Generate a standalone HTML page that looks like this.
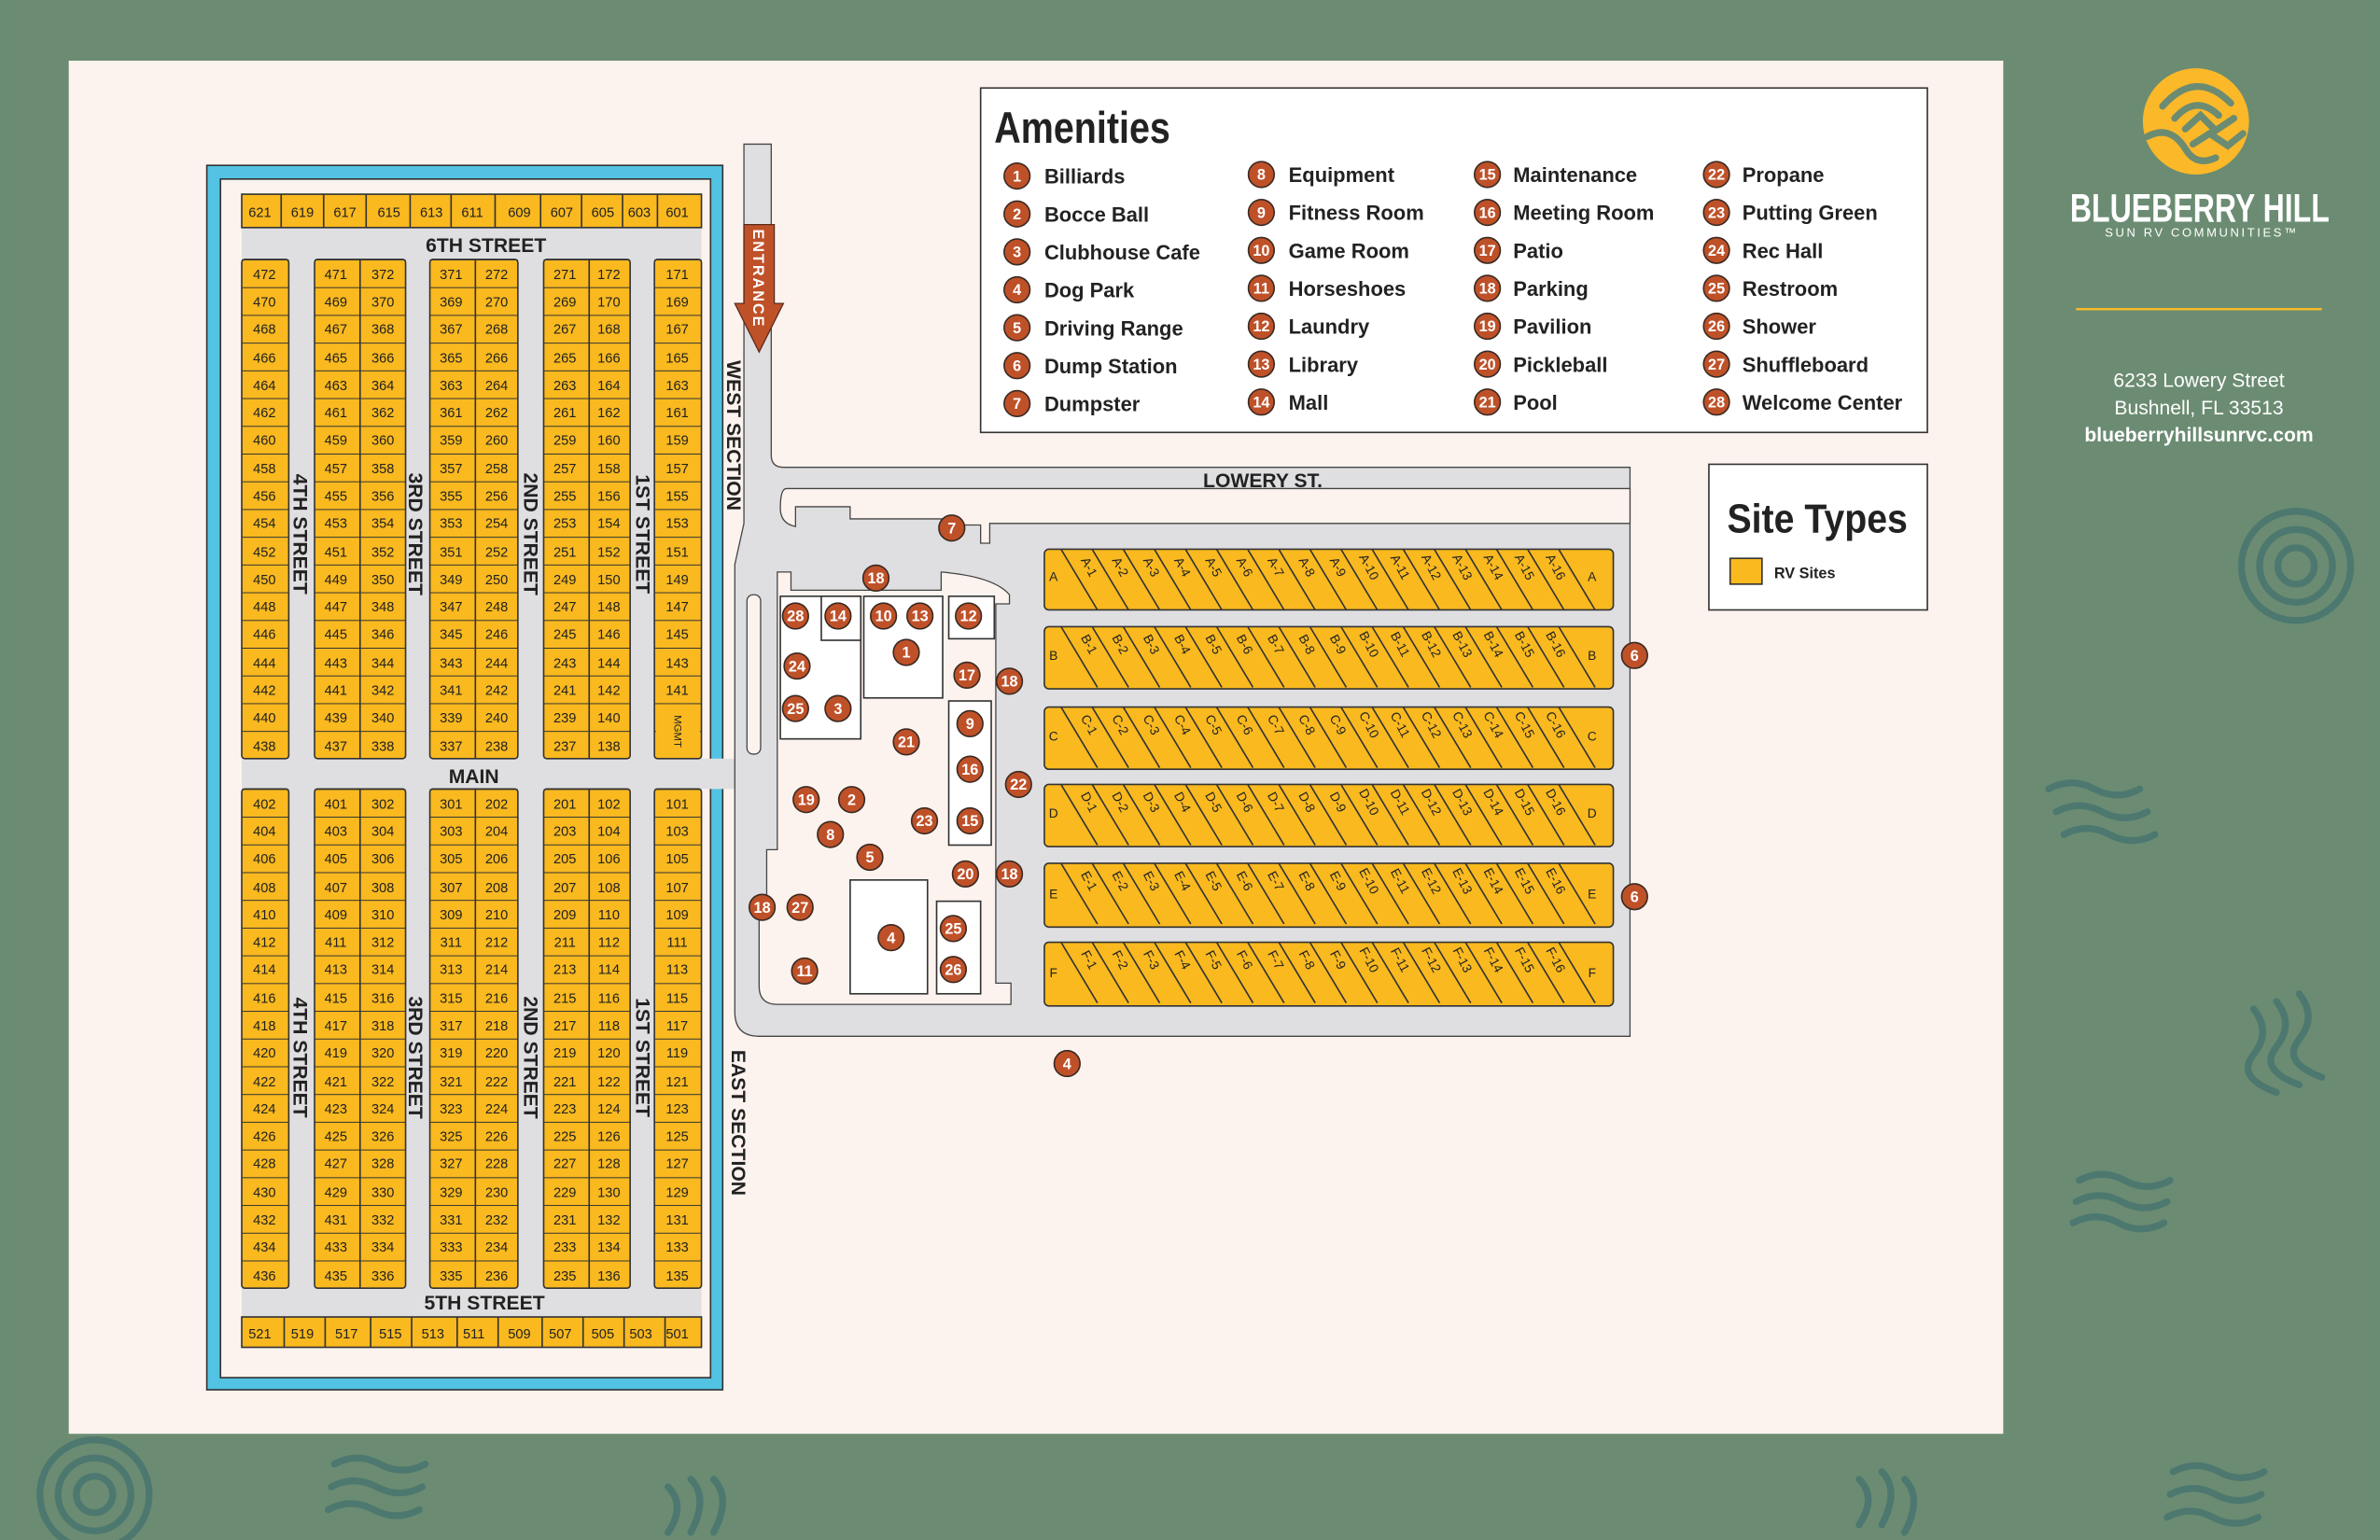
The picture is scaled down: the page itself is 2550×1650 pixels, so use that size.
<!DOCTYPE html>
<html><head><meta charset="utf-8"><style>
html,body{margin:0;padding:0;background:#6b8c72;}
svg{display:block}
.l{font-family:"Liberation Sans Narrow","Liberation Sans",sans-serif;font-size:9px;fill:#222;text-anchor:middle}
.st{font-family:"Liberation Sans",sans-serif;font-weight:bold;font-size:13px;fill:#222;text-anchor:middle}
.d{font-family:"Liberation Sans Narrow","Liberation Sans",sans-serif;font-size:8.5px;fill:#222;text-anchor:middle}
.c circle{fill:#bf5129;stroke:#3a2a22;stroke-width:1}
.c text{font-family:"Liberation Sans",sans-serif;font-weight:bold;font-size:10px;fill:#fff;text-anchor:middle}
.am{font-family:"Liberation Sans",sans-serif;font-weight:bold;font-size:13.5px;fill:#222}
.w{fill:none;stroke:#4d7870;stroke-width:4.5;stroke-linecap:round}
</style></head><body>
<svg width="2550" height="1650" viewBox="0 0 1568 1015" xmlns="http://www.w3.org/2000/svg">
<defs>
<pattern id="p1" patternUnits="userSpaceOnUse" x="0" y="171" width="10" height="18.28"><line x1="0" y1="0" x2="10" y2="0" stroke="#333" stroke-width="1.2"/></pattern>
<pattern id="p2" patternUnits="userSpaceOnUse" x="0" y="520" width="10" height="18.28"><line x1="0" y1="0" x2="10" y2="0" stroke="#333" stroke-width="1.2"/></pattern>
</defs>
<rect width="1568" height="1015" fill="#6b8c72"/>
<g class="w">
<circle cx="62" cy="985" r="36"/><circle cx="62" cy="985" r="24"/><circle cx="62" cy="985" r="12"/>
<circle cx="1513" cy="373" r="36"/><circle cx="1513" cy="373" r="24"/><circle cx="1513" cy="373" r="12"/>
<path d="M1350,520 q15,-8 30,0 t30,0 M1355,535 q15,-8 30,0 t30,0 M1360,550 q15,-8 30,0 t30,0"/>
<path d="M1485,665 q12,15 0,30 t15,25 M1500,660 q12,15 0,30 t15,25 M1515,655 q12,15 0,30 t15,25"/>
<path d="M1370,778 q15,-8 30,0 t30,0 M1368,792 q15,-8 30,0 t30,0 M1366,806 q15,-8 30,0 t30,0"/>
<path d="M220,965 q15,-8 30,0 t30,0 M218,980 q15,-8 30,0 t30,0 M216,995 q15,-8 30,0 t30,0"/>
<path d="M440,980 q12,12 0,30 M455,975 q12,12 0,35 M470,975 q12,12 0,35"/>
<path d="M1225,975 q12,12 0,30 M1240,970 q12,12 0,35 M1255,975 q12,12 0,35"/>
<path d="M1432,970 q15,-8 30,0 t30,0 M1430,985 q15,-8 30,0 t30,0 M1428,1000 q15,-8 30,0 t30,0"/>
</g>
<rect x="45" y="40" width="1275" height="905" fill="#fdf3ee"/>
<rect x="136" y="109" width="340" height="807" fill="#52c3e3" stroke="#333" stroke-width="1"/>
<rect x="145" y="118" width="323" height="790" fill="#fdf3ee" stroke="#333" stroke-width="1"/>
<rect x="159" y="128" width="303" height="760" fill="#dfdfe1"/>
<rect x="461" y="500" width="30" height="20" fill="#dfdfe1"/>
<rect x="159" y="128" width="303" height="22" fill="#f9b91f" stroke="#333"/>
<rect x="159" y="868" width="303" height="20" fill="#f9b91f" stroke="#333"/>
<path d="M185,128V150M213,128V150M241,128V150M270,128V150M297,128V150M326,128V150M356,128V150M383,128V150M410,128V150M433,128V150M187,868V888M214,868V888M244,868V888M271,868V888M301,868V888M328,868V888M357,868V888M384,868V888M411,868V888M438,868V888" stroke="#333" stroke-width="1"/>
<g fill="#f9b91f" stroke="#333" stroke-width="1">
<rect x="159" y="171" width="31" height="329" rx="2"/><rect x="207" y="171" width="60" height="329" rx="2"/><rect x="283" y="171" width="58" height="329" rx="2"/><rect x="358" y="171" width="57" height="329" rx="2"/><rect x="431" y="171" width="31" height="329" rx="2"/>
<rect x="159" y="520" width="31" height="329" rx="2"/><rect x="207" y="520" width="60" height="329" rx="2"/><rect x="283" y="520" width="58" height="329" rx="2"/><rect x="358" y="520" width="57" height="329" rx="2"/><rect x="431" y="520" width="31" height="329" rx="2"/>
</g>
<g fill="url(#p1)"><rect x="159" y="171" width="31" height="329"/><rect x="207" y="171" width="60" height="329"/><rect x="283" y="171" width="58" height="329"/><rect x="358" y="171" width="57" height="329"/><rect x="431" y="171" width="31" height="329"/></g>
<g fill="url(#p2)"><rect x="159" y="520" width="31" height="329"/><rect x="207" y="520" width="60" height="329"/><rect x="283" y="520" width="58" height="329"/><rect x="358" y="520" width="57" height="329"/><rect x="431" y="520" width="31" height="329"/></g>
<rect x="432" y="465" width="29" height="34" fill="#f9b91f"/>
<path d="M237,171V500M313,171V500M388,171V500M237,520V849M313,520V849M388,520V849" stroke="#333"/>
<g class="l">
<text x="171" y="143">621</text><text x="199" y="143">619</text><text x="227" y="143">617</text><text x="256" y="143">615</text><text x="284" y="143">613</text><text x="311" y="143">611</text><text x="342" y="143">609</text><text x="370" y="143">607</text><text x="397" y="143">605</text><text x="421" y="143">603</text><text x="446" y="143">601</text>
<text x="171" y="882">521</text><text x="199" y="882">519</text><text x="228" y="882">517</text><text x="257" y="882">515</text><text x="285" y="882">513</text><text x="312" y="882">511</text><text x="342" y="882">509</text><text x="369" y="882">507</text><text x="397" y="882">505</text><text x="422" y="882">503</text><text x="446" y="882">501</text>
<text x="174" y="184">472</text><text x="174" y="202">470</text><text x="174" y="220">468</text><text x="174" y="239">466</text><text x="174" y="257">464</text><text x="174" y="275">462</text><text x="174" y="293">460</text><text x="174" y="312">458</text><text x="174" y="330">456</text><text x="174" y="348">454</text><text x="174" y="367">452</text><text x="174" y="385">450</text><text x="174" y="403">448</text><text x="174" y="421">446</text><text x="174" y="440">444</text><text x="174" y="458">442</text><text x="174" y="476">440</text><text x="174" y="495">438</text>
<text x="221" y="184">471</text><text x="221" y="202">469</text><text x="221" y="220">467</text><text x="221" y="239">465</text><text x="221" y="257">463</text><text x="221" y="275">461</text><text x="221" y="293">459</text><text x="221" y="312">457</text><text x="221" y="330">455</text><text x="221" y="348">453</text><text x="221" y="367">451</text><text x="221" y="385">449</text><text x="221" y="403">447</text><text x="221" y="421">445</text><text x="221" y="440">443</text><text x="221" y="458">441</text><text x="221" y="476">439</text><text x="221" y="495">437</text>
<text x="252" y="184">372</text><text x="252" y="202">370</text><text x="252" y="220">368</text><text x="252" y="239">366</text><text x="252" y="257">364</text><text x="252" y="275">362</text><text x="252" y="293">360</text><text x="252" y="312">358</text><text x="252" y="330">356</text><text x="252" y="348">354</text><text x="252" y="367">352</text><text x="252" y="385">350</text><text x="252" y="403">348</text><text x="252" y="421">346</text><text x="252" y="440">344</text><text x="252" y="458">342</text><text x="252" y="476">340</text><text x="252" y="495">338</text>
<text x="297" y="184">371</text><text x="297" y="202">369</text><text x="297" y="220">367</text><text x="297" y="239">365</text><text x="297" y="257">363</text><text x="297" y="275">361</text><text x="297" y="293">359</text><text x="297" y="312">357</text><text x="297" y="330">355</text><text x="297" y="348">353</text><text x="297" y="367">351</text><text x="297" y="385">349</text><text x="297" y="403">347</text><text x="297" y="421">345</text><text x="297" y="440">343</text><text x="297" y="458">341</text><text x="297" y="476">339</text><text x="297" y="495">337</text>
<text x="327" y="184">272</text><text x="327" y="202">270</text><text x="327" y="220">268</text><text x="327" y="239">266</text><text x="327" y="257">264</text><text x="327" y="275">262</text><text x="327" y="293">260</text><text x="327" y="312">258</text><text x="327" y="330">256</text><text x="327" y="348">254</text><text x="327" y="367">252</text><text x="327" y="385">250</text><text x="327" y="403">248</text><text x="327" y="421">246</text><text x="327" y="440">244</text><text x="327" y="458">242</text><text x="327" y="476">240</text><text x="327" y="495">238</text>
<text x="372" y="184">271</text><text x="372" y="202">269</text><text x="372" y="220">267</text><text x="372" y="239">265</text><text x="372" y="257">263</text><text x="372" y="275">261</text><text x="372" y="293">259</text><text x="372" y="312">257</text><text x="372" y="330">255</text><text x="372" y="348">253</text><text x="372" y="367">251</text><text x="372" y="385">249</text><text x="372" y="403">247</text><text x="372" y="421">245</text><text x="372" y="440">243</text><text x="372" y="458">241</text><text x="372" y="476">239</text><text x="372" y="495">237</text>
<text x="401" y="184">172</text><text x="401" y="202">170</text><text x="401" y="220">168</text><text x="401" y="239">166</text><text x="401" y="257">164</text><text x="401" y="275">162</text><text x="401" y="293">160</text><text x="401" y="312">158</text><text x="401" y="330">156</text><text x="401" y="348">154</text><text x="401" y="367">152</text><text x="401" y="385">150</text><text x="401" y="403">148</text><text x="401" y="421">146</text><text x="401" y="440">144</text><text x="401" y="458">142</text><text x="401" y="476">140</text><text x="401" y="495">138</text>
<text x="446" y="184">171</text><text x="446" y="202">169</text><text x="446" y="220">167</text><text x="446" y="239">165</text><text x="446" y="257">163</text><text x="446" y="275">161</text><text x="446" y="293">159</text><text x="446" y="312">157</text><text x="446" y="330">155</text><text x="446" y="348">153</text><text x="446" y="367">151</text><text x="446" y="385">149</text><text x="446" y="403">147</text><text x="446" y="421">145</text><text x="446" y="440">143</text><text x="446" y="458">141</text>
<text x="0" y="0" font-size="7" transform="translate(444,482) rotate(90)">MGMT</text>
<text x="174" y="533">402</text><text x="174" y="551">404</text><text x="174" y="569">406</text><text x="174" y="588">408</text><text x="174" y="606">410</text><text x="174" y="624">412</text><text x="174" y="642">414</text><text x="174" y="661">416</text><text x="174" y="679">418</text><text x="174" y="697">420</text><text x="174" y="716">422</text><text x="174" y="734">424</text><text x="174" y="752">426</text><text x="174" y="770">428</text><text x="174" y="789">430</text><text x="174" y="807">432</text><text x="174" y="825">434</text><text x="174" y="844">436</text>
<text x="221" y="533">401</text><text x="221" y="551">403</text><text x="221" y="569">405</text><text x="221" y="588">407</text><text x="221" y="606">409</text><text x="221" y="624">411</text><text x="221" y="642">413</text><text x="221" y="661">415</text><text x="221" y="679">417</text><text x="221" y="697">419</text><text x="221" y="716">421</text><text x="221" y="734">423</text><text x="221" y="752">425</text><text x="221" y="770">427</text><text x="221" y="789">429</text><text x="221" y="807">431</text><text x="221" y="825">433</text><text x="221" y="844">435</text>
<text x="252" y="533">302</text><text x="252" y="551">304</text><text x="252" y="569">306</text><text x="252" y="588">308</text><text x="252" y="606">310</text><text x="252" y="624">312</text><text x="252" y="642">314</text><text x="252" y="661">316</text><text x="252" y="679">318</text><text x="252" y="697">320</text><text x="252" y="716">322</text><text x="252" y="734">324</text><text x="252" y="752">326</text><text x="252" y="770">328</text><text x="252" y="789">330</text><text x="252" y="807">332</text><text x="252" y="825">334</text><text x="252" y="844">336</text>
<text x="297" y="533">301</text><text x="297" y="551">303</text><text x="297" y="569">305</text><text x="297" y="588">307</text><text x="297" y="606">309</text><text x="297" y="624">311</text><text x="297" y="642">313</text><text x="297" y="661">315</text><text x="297" y="679">317</text><text x="297" y="697">319</text><text x="297" y="716">321</text><text x="297" y="734">323</text><text x="297" y="752">325</text><text x="297" y="770">327</text><text x="297" y="789">329</text><text x="297" y="807">331</text><text x="297" y="825">333</text><text x="297" y="844">335</text>
<text x="327" y="533">202</text><text x="327" y="551">204</text><text x="327" y="569">206</text><text x="327" y="588">208</text><text x="327" y="606">210</text><text x="327" y="624">212</text><text x="327" y="642">214</text><text x="327" y="661">216</text><text x="327" y="679">218</text><text x="327" y="697">220</text><text x="327" y="716">222</text><text x="327" y="734">224</text><text x="327" y="752">226</text><text x="327" y="770">228</text><text x="327" y="789">230</text><text x="327" y="807">232</text><text x="327" y="825">234</text><text x="327" y="844">236</text>
<text x="372" y="533">201</text><text x="372" y="551">203</text><text x="372" y="569">205</text><text x="372" y="588">207</text><text x="372" y="606">209</text><text x="372" y="624">211</text><text x="372" y="642">213</text><text x="372" y="661">215</text><text x="372" y="679">217</text><text x="372" y="697">219</text><text x="372" y="716">221</text><text x="372" y="734">223</text><text x="372" y="752">225</text><text x="372" y="770">227</text><text x="372" y="789">229</text><text x="372" y="807">231</text><text x="372" y="825">233</text><text x="372" y="844">235</text>
<text x="401" y="533">102</text><text x="401" y="551">104</text><text x="401" y="569">106</text><text x="401" y="588">108</text><text x="401" y="606">110</text><text x="401" y="624">112</text><text x="401" y="642">114</text><text x="401" y="661">116</text><text x="401" y="679">118</text><text x="401" y="697">120</text><text x="401" y="716">122</text><text x="401" y="734">124</text><text x="401" y="752">126</text><text x="401" y="770">128</text><text x="401" y="789">130</text><text x="401" y="807">132</text><text x="401" y="825">134</text><text x="401" y="844">136</text>
<text x="446" y="533">101</text><text x="446" y="551">103</text><text x="446" y="569">105</text><text x="446" y="588">107</text><text x="446" y="606">109</text><text x="446" y="624">111</text><text x="446" y="642">113</text><text x="446" y="661">115</text><text x="446" y="679">117</text><text x="446" y="697">119</text><text x="446" y="716">121</text><text x="446" y="734">123</text><text x="446" y="752">125</text><text x="446" y="770">127</text><text x="446" y="789">129</text><text x="446" y="807">131</text><text x="446" y="825">133</text><text x="446" y="844">135</text>
</g>
<g class="st">
<text x="320" y="166">6TH STREET</text><text x="312" y="516">MAIN</text><text x="319" y="863">5TH STREET</text>
<text transform="translate(193,352) rotate(90)">4TH STREET</text><text transform="translate(269,352) rotate(90)">3RD STREET</text><text transform="translate(345,352) rotate(90)">2ND STREET</text><text transform="translate(419,352) rotate(90)">1ST STREET</text>
<text transform="translate(193,697) rotate(90)">4TH STREET</text><text transform="translate(269,697) rotate(90)">3RD STREET</text><text transform="translate(345,697) rotate(90)">2ND STREET</text><text transform="translate(419,697) rotate(90)">1ST STREET</text>
<text transform="translate(479,287) rotate(90)">WEST SECTION</text><text transform="translate(482,740) rotate(90)">EAST SECTION</text>
</g>
<path d="M490,95H508V300Q508,308 516,308H1074V683H500Q484,683 484,667V372L490,345Z" fill="#dfdfe1" stroke="#444" stroke-width="0.8"/>
<path d="M518,322H1074V345H652V358H646V346H632V342H560V334H524V347Q514,345 514,335Q514,322 518,322Z" fill="#fdf3ee" stroke="#444" stroke-width="0.8"/>
<path d="M512,377H521V389H620V377Q655,380 665,392V398H656V648H666V662H512Q500,662 500,650V600H505V560H512Z" fill="#fdf3ee" stroke="#444" stroke-width="0.8"/>
<rect x="492" y="392" width="9" height="105" rx="4" fill="#fdf3ee" stroke="#444" stroke-width="0.8"/>
<g fill="#fff" stroke="#333" stroke-width="1">
<rect x="514" y="393" width="53" height="94"/><rect x="541" y="393" width="26" height="29"/><rect x="569" y="393" width="52" height="67"/><rect x="625" y="393" width="30" height="28"/><rect x="625" y="462" width="28" height="95"/><rect x="560" y="580" width="51" height="75"/><rect x="617" y="594" width="29" height="61"/>
</g>
<text class="st" x="832" y="321">LOWERY ST.</text>
<path d="M490,148H510V200H516L500,232L484,200H490Z" fill="#bf5129" stroke="#5a2a1a" stroke-width="0.8"/>
<text transform="translate(496,151) rotate(90)" font-family="Liberation Sans,sans-serif" font-weight="bold" font-size="10" fill="#fff" textLength="64">ENTRANCE</text>
<g fill="#f9b91f" stroke="#333" stroke-width="1">
<rect x="688" y="362" width="375" height="40" rx="3"/><rect x="688" y="413" width="375" height="41" rx="3"/><rect x="688" y="466" width="375" height="41" rx="3"/><rect x="688" y="517" width="375" height="41" rx="3"/><rect x="688" y="569" width="375" height="42" rx="3"/><rect x="688" y="621" width="375" height="42" rx="3"/>
</g>
<g stroke="#333" stroke-width="1">
<path id="dg" d="M699,0l24,40M719.5,0l24,40M740,0l24,40M760.5,0l24,40M781,0l24,40M801.5,0l24,40M822,0l24,40M842.5,0l24,40M863,0l24,40M883.5,0l24,40M904,0l24,40M924.5,0l24,40M945,0l24,40M965.5,0l24,40M986,0l24,40M1006.5,0l24,40M1027,0l24,40" transform="translate(0,362)"/>
<use href="#dg" transform="translate(0,51)"/><use href="#dg" transform="translate(0,104)"/><use href="#dg" transform="translate(0,155)"/><use href="#dg" transform="translate(0,207)"/><use href="#dg" transform="translate(0,259)"/>
</g>
<g class="d">
<text x="694" y="383">A</text><text x="1049" y="383">A</text><text x="694" y="435">B</text><text x="1049" y="435">B</text><text x="694" y="488">C</text><text x="1049" y="488">C</text><text x="694" y="539">D</text><text x="1049" y="539">D</text><text x="694" y="592">E</text><text x="1049" y="592">E</text><text x="694" y="644">F</text><text x="1049" y="644">F</text>
<g transform="translate(0,375)"><text transform="translate(715,0) rotate(62)">A-1</text><text transform="translate(735.5,0) rotate(62)">A-2</text><text transform="translate(756,0) rotate(62)">A-3</text><text transform="translate(776.5,0) rotate(62)">A-4</text><text transform="translate(797,0) rotate(62)">A-5</text><text transform="translate(817.5,0) rotate(62)">A-6</text><text transform="translate(838,0) rotate(62)">A-7</text><text transform="translate(858.5,0) rotate(62)">A-8</text><text transform="translate(879,0) rotate(62)">A-9</text><text transform="translate(899.5,0) rotate(62)">A-10</text><text transform="translate(920,0) rotate(62)">A-11</text><text transform="translate(940.5,0) rotate(62)">A-12</text><text transform="translate(961,0) rotate(62)">A-13</text><text transform="translate(981.5,0) rotate(62)">A-14</text><text transform="translate(1002,0) rotate(62)">A-15</text><text transform="translate(1022.5,0) rotate(62)">A-16</text></g>
<g transform="translate(0,426)"><text transform="translate(715,0) rotate(62)">B-1</text><text transform="translate(735.5,0) rotate(62)">B-2</text><text transform="translate(756,0) rotate(62)">B-3</text><text transform="translate(776.5,0) rotate(62)">B-4</text><text transform="translate(797,0) rotate(62)">B-5</text><text transform="translate(817.5,0) rotate(62)">B-6</text><text transform="translate(838,0) rotate(62)">B-7</text><text transform="translate(858.5,0) rotate(62)">B-8</text><text transform="translate(879,0) rotate(62)">B-9</text><text transform="translate(899.5,0) rotate(62)">B-10</text><text transform="translate(920,0) rotate(62)">B-11</text><text transform="translate(940.5,0) rotate(62)">B-12</text><text transform="translate(961,0) rotate(62)">B-13</text><text transform="translate(981.5,0) rotate(62)">B-14</text><text transform="translate(1002,0) rotate(62)">B-15</text><text transform="translate(1022.5,0) rotate(62)">B-16</text></g>
<g transform="translate(0,479)"><text transform="translate(715,0) rotate(62)">C-1</text><text transform="translate(735.5,0) rotate(62)">C-2</text><text transform="translate(756,0) rotate(62)">C-3</text><text transform="translate(776.5,0) rotate(62)">C-4</text><text transform="translate(797,0) rotate(62)">C-5</text><text transform="translate(817.5,0) rotate(62)">C-6</text><text transform="translate(838,0) rotate(62)">C-7</text><text transform="translate(858.5,0) rotate(62)">C-8</text><text transform="translate(879,0) rotate(62)">C-9</text><text transform="translate(899.5,0) rotate(62)">C-10</text><text transform="translate(920,0) rotate(62)">C-11</text><text transform="translate(940.5,0) rotate(62)">C-12</text><text transform="translate(961,0) rotate(62)">C-13</text><text transform="translate(981.5,0) rotate(62)">C-14</text><text transform="translate(1002,0) rotate(62)">C-15</text><text transform="translate(1022.5,0) rotate(62)">C-16</text></g>
<g transform="translate(0,530)"><text transform="translate(715,0) rotate(62)">D-1</text><text transform="translate(735.5,0) rotate(62)">D-2</text><text transform="translate(756,0) rotate(62)">D-3</text><text transform="translate(776.5,0) rotate(62)">D-4</text><text transform="translate(797,0) rotate(62)">D-5</text><text transform="translate(817.5,0) rotate(62)">D-6</text><text transform="translate(838,0) rotate(62)">D-7</text><text transform="translate(858.5,0) rotate(62)">D-8</text><text transform="translate(879,0) rotate(62)">D-9</text><text transform="translate(899.5,0) rotate(62)">D-10</text><text transform="translate(920,0) rotate(62)">D-11</text><text transform="translate(940.5,0) rotate(62)">D-12</text><text transform="translate(961,0) rotate(62)">D-13</text><text transform="translate(981.5,0) rotate(62)">D-14</text><text transform="translate(1002,0) rotate(62)">D-15</text><text transform="translate(1022.5,0) rotate(62)">D-16</text></g>
<g transform="translate(0,582)"><text transform="translate(715,0) rotate(62)">E-1</text><text transform="translate(735.5,0) rotate(62)">E-2</text><text transform="translate(756,0) rotate(62)">E-3</text><text transform="translate(776.5,0) rotate(62)">E-4</text><text transform="translate(797,0) rotate(62)">E-5</text><text transform="translate(817.5,0) rotate(62)">E-6</text><text transform="translate(838,0) rotate(62)">E-7</text><text transform="translate(858.5,0) rotate(62)">E-8</text><text transform="translate(879,0) rotate(62)">E-9</text><text transform="translate(899.5,0) rotate(62)">E-10</text><text transform="translate(920,0) rotate(62)">E-11</text><text transform="translate(940.5,0) rotate(62)">E-12</text><text transform="translate(961,0) rotate(62)">E-13</text><text transform="translate(981.5,0) rotate(62)">E-14</text><text transform="translate(1002,0) rotate(62)">E-15</text><text transform="translate(1022.5,0) rotate(62)">E-16</text></g>
<g transform="translate(0,634)"><text transform="translate(715,0) rotate(62)">F-1</text><text transform="translate(735.5,0) rotate(62)">F-2</text><text transform="translate(756,0) rotate(62)">F-3</text><text transform="translate(776.5,0) rotate(62)">F-4</text><text transform="translate(797,0) rotate(62)">F-5</text><text transform="translate(817.5,0) rotate(62)">F-6</text><text transform="translate(838,0) rotate(62)">F-7</text><text transform="translate(858.5,0) rotate(62)">F-8</text><text transform="translate(879,0) rotate(62)">F-9</text><text transform="translate(899.5,0) rotate(62)">F-10</text><text transform="translate(920,0) rotate(62)">F-11</text><text transform="translate(940.5,0) rotate(62)">F-12</text><text transform="translate(961,0) rotate(62)">F-13</text><text transform="translate(981.5,0) rotate(62)">F-14</text><text transform="translate(1002,0) rotate(62)">F-15</text><text transform="translate(1022.5,0) rotate(62)">F-16</text></g>
</g>
<g class="c">
<g transform="translate(597,430)"><circle r="8.5"/><text y="3.5">1</text></g>
<g transform="translate(561,527)"><circle r="8.5"/><text y="3.5">2</text></g>
<g transform="translate(552,467)"><circle r="8.5"/><text y="3.5">3</text></g>
<g transform="translate(587,618)"><circle r="8.5"/><text y="3.5">4</text></g>
<g transform="translate(703,701)"><circle r="8.5"/><text y="3.5">4</text></g>
<g transform="translate(573,565)"><circle r="8.5"/><text y="3.5">5</text></g>
<g transform="translate(1077,432)"><circle r="8.5"/><text y="3.5">6</text></g>
<g transform="translate(1077,591)"><circle r="8.5"/><text y="3.5">6</text></g>
<g transform="translate(627,348)"><circle r="8.5"/><text y="3.5">7</text></g>
<g transform="translate(547,550)"><circle r="8.5"/><text y="3.5">8</text></g>
<g transform="translate(639,477)"><circle r="8.5"/><text y="3.5">9</text></g>
<g transform="translate(582,406)"><circle r="8.5"/><text y="3.5">10</text></g>
<g transform="translate(530,640)"><circle r="8.5"/><text y="3.5">11</text></g>
<g transform="translate(638,406)"><circle r="8.5"/><text y="3.5">12</text></g>
<g transform="translate(606,406)"><circle r="8.5"/><text y="3.5">13</text></g>
<g transform="translate(552,406)"><circle r="8.5"/><text y="3.5">14</text></g>
<g transform="translate(639,541)"><circle r="8.5"/><text y="3.5">15</text></g>
<g transform="translate(639,507)"><circle r="8.5"/><text y="3.5">16</text></g>
<g transform="translate(637,445)"><circle r="8.5"/><text y="3.5">17</text></g>
<g transform="translate(577,381)"><circle r="8.5"/><text y="3.5">18</text></g>
<g transform="translate(665,449)"><circle r="8.5"/><text y="3.5">18</text></g>
<g transform="translate(665,576)"><circle r="8.5"/><text y="3.5">18</text></g>
<g transform="translate(502,598)"><circle r="8.5"/><text y="3.5">18</text></g>
<g transform="translate(531,527)"><circle r="8.5"/><text y="3.5">19</text></g>
<g transform="translate(636,576)"><circle r="8.5"/><text y="3.5">20</text></g>
<g transform="translate(597,489)"><circle r="8.5"/><text y="3.5">21</text></g>
<g transform="translate(671,517)"><circle r="8.5"/><text y="3.5">22</text></g>
<g transform="translate(609,541)"><circle r="8.5"/><text y="3.5">23</text></g>
<g transform="translate(525,439)"><circle r="8.5"/><text y="3.5">24</text></g>
<g transform="translate(524,467)"><circle r="8.5"/><text y="3.5">25</text></g>
<g transform="translate(628,612)"><circle r="8.5"/><text y="3.5">25</text></g>
<g transform="translate(628,639)"><circle r="8.5"/><text y="3.5">26</text></g>
<g transform="translate(527,598)"><circle r="8.5"/><text y="3.5">27</text></g>
<g transform="translate(524,406)"><circle r="8.5"/><text y="3.5">28</text></g>
</g>
<rect x="646" y="58" width="624" height="227" fill="#fff" stroke="#333" stroke-width="1"/>
<text x="655" y="94" font-family="Liberation Sans Narrow,Liberation Sans,sans-serif" font-weight="bold" font-size="29" fill="#222" textLength="116" lengthAdjust="spacingAndGlyphs">Amenities</text>
<g class="c">
<g transform="translate(670,116)"><circle r="8.5"/><text y="3.5">1</text></g>
<g transform="translate(670,141)"><circle r="8.5"/><text y="3.5">2</text></g>
<g transform="translate(670,166)"><circle r="8.5"/><text y="3.5">3</text></g>
<g transform="translate(670,191)"><circle r="8.5"/><text y="3.5">4</text></g>
<g transform="translate(670,216)"><circle r="8.5"/><text y="3.5">5</text></g>
<g transform="translate(670,241)"><circle r="8.5"/><text y="3.5">6</text></g>
<g transform="translate(670,266)"><circle r="8.5"/><text y="3.5">7</text></g>
<g transform="translate(831,115)"><circle r="8.5"/><text y="3.5">8</text></g>
<g transform="translate(831,140)"><circle r="8.5"/><text y="3.5">9</text></g>
<g transform="translate(831,165)"><circle r="8.5"/><text y="3.5">10</text></g>
<g transform="translate(831,190)"><circle r="8.5"/><text y="3.5">11</text></g>
<g transform="translate(831,215)"><circle r="8.5"/><text y="3.5">12</text></g>
<g transform="translate(831,240)"><circle r="8.5"/><text y="3.5">13</text></g>
<g transform="translate(831,265)"><circle r="8.5"/><text y="3.5">14</text></g>
<g transform="translate(980,115)"><circle r="8.5"/><text y="3.5">15</text></g>
<g transform="translate(980,140)"><circle r="8.5"/><text y="3.5">16</text></g>
<g transform="translate(980,165)"><circle r="8.5"/><text y="3.5">17</text></g>
<g transform="translate(980,190)"><circle r="8.5"/><text y="3.5">18</text></g>
<g transform="translate(980,215)"><circle r="8.5"/><text y="3.5">19</text></g>
<g transform="translate(980,240)"><circle r="8.5"/><text y="3.5">20</text></g>
<g transform="translate(980,265)"><circle r="8.5"/><text y="3.5">21</text></g>
<g transform="translate(1131,115)"><circle r="8.5"/><text y="3.5">22</text></g>
<g transform="translate(1131,140)"><circle r="8.5"/><text y="3.5">23</text></g>
<g transform="translate(1131,165)"><circle r="8.5"/><text y="3.5">24</text></g>
<g transform="translate(1131,190)"><circle r="8.5"/><text y="3.5">25</text></g>
<g transform="translate(1131,215)"><circle r="8.5"/><text y="3.5">26</text></g>
<g transform="translate(1131,240)"><circle r="8.5"/><text y="3.5">27</text></g>
<g transform="translate(1131,265)"><circle r="8.5"/><text y="3.5">28</text></g>
</g>
<g class="am">
<text x="688" y="121">Billiards</text><text x="688" y="146">Bocce Ball</text><text x="688" y="171">Clubhouse Cafe</text><text x="688" y="196">Dog Park</text><text x="688" y="221">Driving Range</text><text x="688" y="246">Dump Station</text><text x="688" y="271">Dumpster</text>
<text x="849" y="120">Equipment</text><text x="849" y="145">Fitness Room</text><text x="849" y="170">Game Room</text><text x="849" y="195">Horseshoes</text><text x="849" y="220">Laundry</text><text x="849" y="245">Library</text><text x="849" y="270">Mall</text>
<text x="997" y="120">Maintenance</text><text x="997" y="145">Meeting Room</text><text x="997" y="170">Patio</text><text x="997" y="195">Parking</text><text x="997" y="220">Pavilion</text><text x="997" y="245">Pickleball</text><text x="997" y="270">Pool</text>
<text x="1148" y="120">Propane</text><text x="1148" y="145">Putting Green</text><text x="1148" y="170">Rec Hall</text><text x="1148" y="195">Restroom</text><text x="1148" y="220">Shower</text><text x="1148" y="245">Shuffleboard</text><text x="1148" y="270">Welcome Center</text>
</g>
<rect x="1126" y="306" width="144" height="96" fill="#fff" stroke="#333" stroke-width="1"/>
<text x="1138" y="351" font-family="Liberation Sans Narrow,Liberation Sans,sans-serif" font-weight="bold" font-size="27" fill="#222" textLength="119" lengthAdjust="spacingAndGlyphs">Site Types</text>
<rect x="1140" y="368" width="21" height="17" fill="#f9b91f" stroke="#333"/>
<text x="1169" y="381" font-family="Liberation Sans,sans-serif" font-weight="bold" font-size="10" fill="#222">RV Sites</text>
<circle cx="1447" cy="80" r="35" fill="#fbb829"/>
<g fill="none" stroke="#6b8c72" stroke-width="4.5" stroke-linecap="round">
<path d="M1425,70 Q1447,45 1470,68"/><path d="M1433,78 Q1447,62 1462,76"/>
<path d="M1415,90 Q1430,82 1440,98 Q1447,110 1460,104"/><path d="M1440,85 L1450,76 L1460,86 L1472,78"/><path d="M1445,95 L1456,88 L1468,96 L1478,88"/>
</g>
<text x="1364" y="146" font-family="Liberation Sans Narrow,Liberation Sans,sans-serif" font-weight="bold" font-size="26" fill="#fff" textLength="171" lengthAdjust="spacingAndGlyphs">BLUEBERRY HILL</text>
<text x="1387" y="156" font-family="Liberation Sans,sans-serif" font-size="8" fill="#fff" textLength="126" lengthAdjust="spacing">SUN RV COMMUNITIES™</text>
<rect x="1368" y="203" width="162" height="1.5" fill="#fbb829"/>
<g font-family="Liberation Sans,sans-serif" font-size="13" fill="#fff" text-anchor="middle">
<text x="1449" y="255">6233 Lowery Street</text><text x="1449" y="273">Bushnell, FL 33513</text><text x="1449" y="291" font-weight="bold">blueberryhillsunrvc.com</text>
</g>
</svg>
</body></html>
